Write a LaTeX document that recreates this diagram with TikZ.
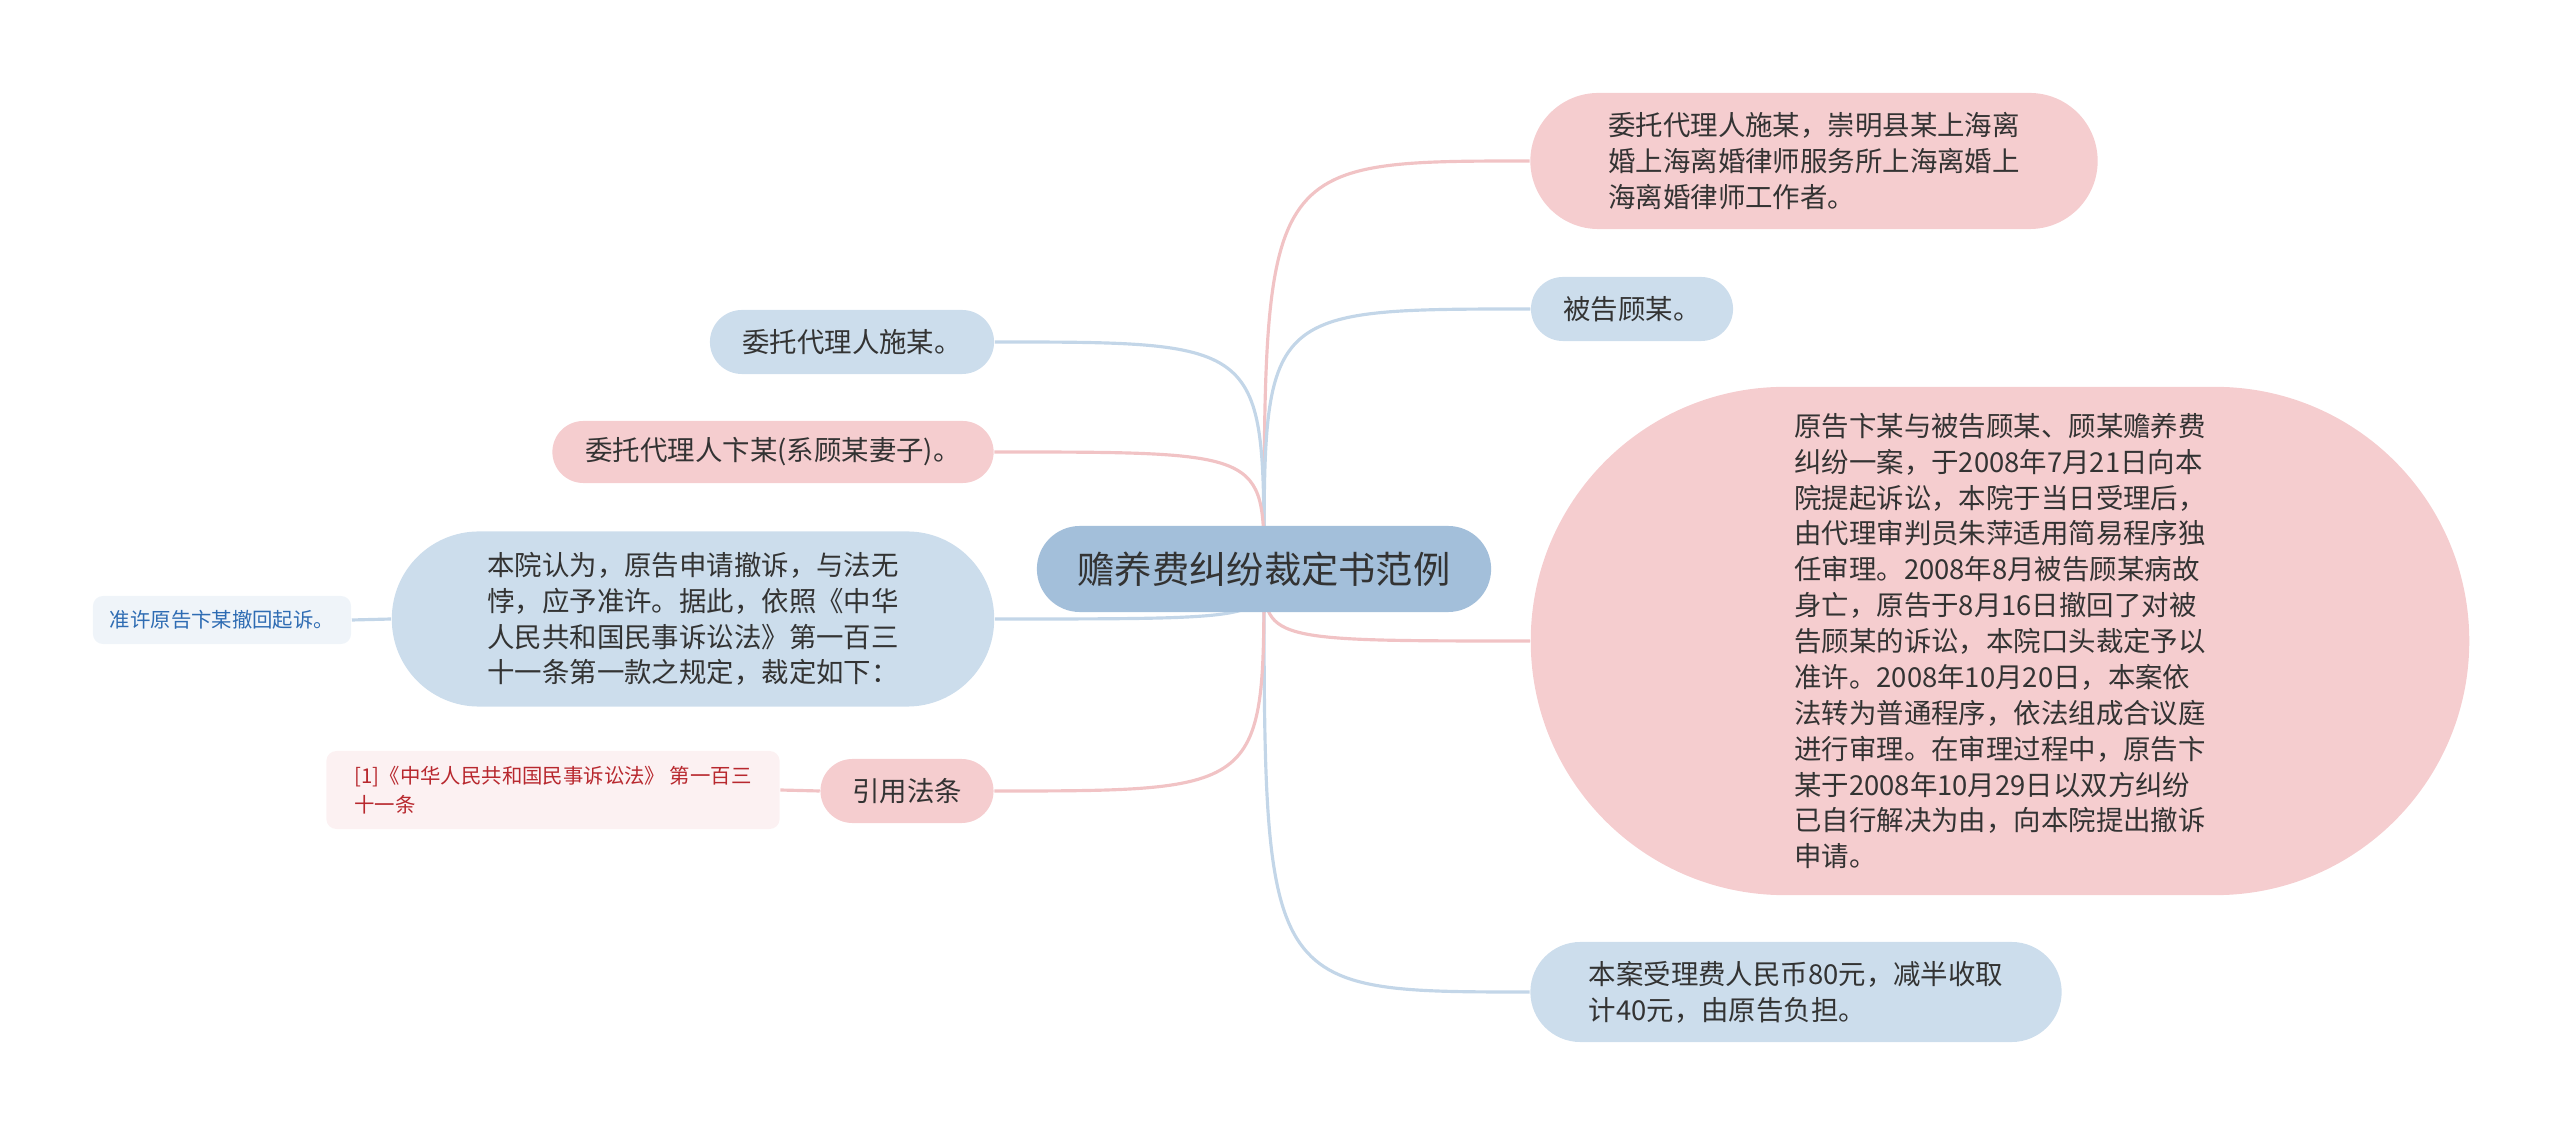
\documentclass[tikz,border=0pt]{standalone}
\usepackage{fontspec}
\setmainfont{Noto Sans CJK SC}
\usepackage{tikz}
\usetikzlibrary{positioning, backgrounds}
\definecolor{mypink}{HTML}{F5CDCF}
\definecolor{myblue}{HTML}{CCDDEC}
\definecolor{myroot}{HTML}{A3BFDA}
\definecolor{mypinkline}{HTML}{F1C3C5}
\definecolor{mybluelink}{HTML}{C3D6E8}
\definecolor{mytext}{HTML}{333333}
\definecolor{myleafblue}{HTML}{2E6CB3}
\definecolor{myleafred}{HTML}{B8282E}
\tikzset{
	defaultnode/.style={
			align=left,
			text=mytext,
			font=\fontsize{7.8}{10.2}\selectfont,
			inner sep=0pt
		},
	rootnode/.style={
			defaultnode,
			fill=myroot,
			font=\fontsize{10.6}{12}\selectfont
		},
	pinknode/.style={
			defaultnode,
			fill=mypink
		},
	bluenode/.style={
			defaultnode,
			fill=myblue
		},
	pinkleaf/.style={
			defaultnode,
			fill=mypink!28,
			text=myleafred,
			font=\fontsize{5.8}{8.2}\selectfont,
			rounded corners=0.1cm
		},
	blueleaf/.style={
			defaultnode,
			fill=myblue!32,
			text=myleafblue,
			font=\fontsize{5.8}{8.2}\selectfont,
			rounded corners=0.1cm
		},
	pinklink/.style={
			draw=mypinkline,
			line width=0.9pt
		},
	bluelink/.style={
			draw=mybluelink,
			line width=0.9pt
		}
}
\begin{document}
\begin{tikzpicture}[x=0.01cm, y=-0.01cm]
\useasboundingbox (0,0) rectangle (2560,1134);
\node[rootnode, minimum width=4.54cm, minimum height=0.86cm, rounded corners=0.43cm] (root) at (1264,569) {赡养费纠纷裁定书范例};

\node[pinknode, minimum width=5.67cm, minimum height=1.36cm, rounded corners=0.68cm] (r1) at (1814,161) {委托代理人施某，崇明县某上海离\\婚上海离婚律师服务所上海离婚上\\海离婚律师工作者。};
\node[bluenode, minimum width=2.02cm, minimum height=0.64cm, rounded corners=0.32cm] (r2) at (1632,309) {被告顾某。};
\node[pinknode, minimum width=9.38cm, minimum height=5.08cm, rounded corners=2.54cm] (r3) at (2000,641) {原告卞某与被告顾某、顾某赡养费\\纠纷一案，于2008年7月21日向本\\院提起诉讼，本院于当日受理后，\\由代理审判员朱萍适用简易程序独\\任审理。2008年8月被告顾某病故\\身亡，原告于8月16日撤回了对被\\告顾某的诉讼，本院口头裁定予以\\准许。2008年10月20日，本案依\\法转为普通程序，依法组成合议庭\\进行审理。在审理过程中，原告卞\\某于2008年10月29日以双方纠纷\\已自行解决为由，向本院提出撤诉\\申请。};
\node[bluenode, minimum width=5.31cm, minimum height=1.0cm, rounded corners=0.5cm] (r4) at (1796,992) {本案受理费人民币80元，减半收取\\计40元，由原告负担。};

\node[bluenode, minimum width=2.84cm, minimum height=0.64cm, rounded corners=0.32cm] (l1) at (852,342) {委托代理人施某。};
\node[pinknode, minimum width=4.41cm, minimum height=0.62cm, rounded corners=0.31cm] (l2) at (773,452) {委托代理人卞某(系顾某妻子)。};
\node[bluenode, minimum width=6.02cm, minimum height=1.75cm, rounded corners=0.87cm] (l3) at (693,619) {本院认为，原告申请撤诉，与法无\\悖，应予准许。据此，依照《中华\\人民共和国民事诉讼法》第一百三\\十一条第一款之规定，裁定如下：};
\node[blueleaf, minimum width=2.58cm, minimum height=0.48cm] (l3c) at (222,620) {准许原告卞某撤回起诉。};
\node[pinknode, minimum width=1.73cm, minimum height=0.64cm, rounded corners=0.32cm] (l4) at (907,791) {引用法条};
\node[pinkleaf, minimum width=4.53cm, minimum height=0.78cm] (l4c) at (553,790) {[1]《中华人民共和国民事诉讼法》 第一百三\\十一条};

\begin{scope}[on background layer]
\draw[pinklink] (root.center) .. controls (root.center |- r1.west) .. (r1.west);
\draw[bluelink] (root.center) .. controls (root.center |- r2.west) .. (r2.west);
\draw[pinklink] (root.center) .. controls (root.center |- r3.west) .. (r3.west);
\draw[bluelink] (root.center) .. controls (root.center |- r4.west) .. (r4.west);
\draw[bluelink] (root.center) .. controls (root.center |- l1.east) .. (l1.east);
\draw[pinklink] (root.center) .. controls (root.center |- l2.east) .. (l2.east);
\draw[bluelink] (root.center) .. controls (root.center |- l3.east) .. (l3.east);
\draw[pinklink] (root.center) .. controls (root.center |- l4.east) .. (l4.east);
\draw[bluelink] (l3.west) -- (l3c.east);
\draw[pinklink] (l4.west) -- (l4c.east);
\end{scope}
\end{tikzpicture}
\end{document}
